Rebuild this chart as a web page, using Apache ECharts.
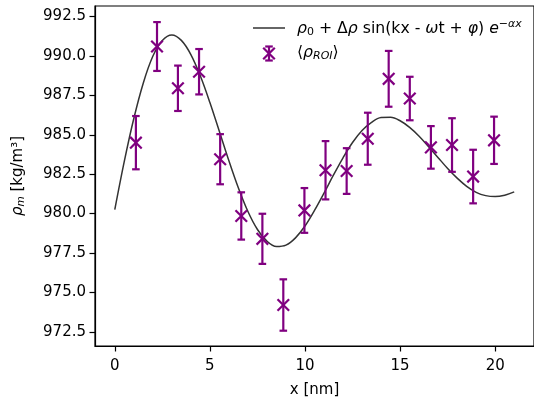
<!DOCTYPE html>
<html>
<head>
<meta charset="utf-8">
<script src="https://cdn.jsdelivr.net/npm/echarts@6/dist/echarts.min.js"></script>
<style>
  html, body { margin: 0; padding: 0; background: #ffffff; }
  #chart { width: 534px; height: 403px; }
</style>
</head>
<body>
<div id="chart"></div>
<script>
// Region-of-interest density samples with their uncertainties
const pointX = [1.11, 2.22, 3.32, 4.43, 5.54, 6.65, 7.76, 8.86, 9.97, 11.08, 12.19, 13.30, 14.40, 15.51, 16.62, 17.73, 18.84, 19.94];
const pointY = [984.5, 990.6, 987.95, 989.0, 983.45, 979.85, 978.4, 974.2, 980.2, 982.75, 982.7, 984.75, 988.55, 987.3, 984.2, 984.35, 982.35, 984.65];
const pointErr = [1.69, 1.55, 1.44, 1.44, 1.59, 1.5, 1.59, 1.63, 1.42, 1.85, 1.45, 1.65, 1.77, 1.38, 1.35, 1.7, 1.7, 1.5];

// Damped-wave fit curve
const fitX = [0, 0.5, 1, 1.5, 2, 2.5, 3, 3.5, 4, 4.5, 5, 5.5, 6, 6.5, 7, 7.5, 8, 8.5, 9, 9.5, 10,
              10.5, 11, 11.5, 12, 12.5, 13, 13.5, 14, 14.5, 15, 15.5, 16, 16.5, 17, 17.5, 18, 18.5, 19, 19.5, 20, 20.5, 21];
const fitY = [980.25, 983.31, 986.03, 988.29, 989.98, 990.98, 991.33, 990.99, 990.09, 988.73, 987.05, 985.21, 983.35, 981.62, 980.13, 978.99, 978.25, 977.91, 978.0, 978.46, 979.21,
              980.20, 981.30, 982.45, 983.54, 984.51, 985.27, 985.79, 986.09, 986.11, 985.89, 985.47, 984.91, 984.24, 983.55, 982.86, 982.25, 981.73, 981.35, 981.14, 981.08, 981.17, 981.38];

const xTicks = [0, 5, 10, 15, 20];
const yTicks = [972.5, 975.0, 977.5, 980.0, 982.5, 985.0, 987.5, 990.0, 992.5];

const PURPLE = '#800080';
const CURVE = '#333333';
const FONT = 'DejaVu Sans';

function mathRich(size) {
  const small = size * 0.7;
  return {
    it:  { fontFamily: FONT, fontStyle: 'italic', fontSize: size, color: '#000' },
    sub: { fontFamily: FONT, fontStyle: 'normal', fontSize: small, color: '#000', padding: [7, 0, 0, 0] },
    subi:{ fontFamily: FONT, fontStyle: 'italic', fontSize: small, color: '#000', padding: [7, 0, 0, 0] },
    sup: { fontFamily: FONT, fontStyle: 'italic', fontSize: small, color: '#000', padding: [0, 0, 8, 0] }
  };
}

const chart = echarts.init(document.getElementById('chart'), null, { renderer: 'canvas' });

const errData = pointX.map((x, i) => [x, pointY[i], pointErr[i]]);

function drawErrorPoint(params, api) {
  const x = api.value(0), y = api.value(1), e = api.value(2);
  const c = api.coord([x, y]);
  const hi = api.coord([x, y + e]);
  const lo = api.coord([x, y - e]);
  const cap = 3.8, m = 5.8;
  const st = { stroke: PURPLE, lineWidth: 2.2, lineCap: 'butt' };
  return {
    type: 'group',
    children: [
      { type: 'line', shape: { x1: c[0], y1: hi[1], x2: c[0], y2: lo[1] }, style: st },
      { type: 'line', shape: { x1: c[0] - cap, y1: hi[1], x2: c[0] + cap, y2: hi[1] }, style: st },
      { type: 'line', shape: { x1: c[0] - cap, y1: lo[1], x2: c[0] + cap, y2: lo[1] }, style: st },
      { type: 'line', shape: { x1: c[0] - m, y1: c[1] - m, x2: c[0] + m, y2: c[1] + m }, style: st },
      { type: 'line', shape: { x1: c[0] - m, y1: c[1] + m, x2: c[0] + m, y2: c[1] - m }, style: st }
    ]
  };
}

const legendStyle = { stroke: PURPLE, lineWidth: 2.2 };

const option = {
  backgroundColor: '#ffffff',
  animation: false,
  textStyle: { fontFamily: FONT },
  grid: {
    left: 95, top: 6, right: -4, bottom: 57,
    show: true, borderColor: '#000', borderWidth: 1.2, backgroundColor: 'transparent'
  },
  xAxis: {
    type: 'value',
    min: -1.04, max: 22.04,
    name: 'x [nm]',
    nameLocation: 'middle',
    nameGap: 37,
    nameTextStyle: { fontFamily: FONT, fontSize: 15, color: '#000' },
    axisLine: { show: true, onZero: false, lineStyle: { color: '#000', width: 1.2 } },
    axisTick: { show: true, length: 5.5, inside: false, customValues: xTicks, lineStyle: { color: '#000', width: 1.2 } },
    axisLabel: { customValues: xTicks, margin: 13, fontFamily: FONT, fontSize: 15, color: '#000' },
    splitLine: { show: false }
  },
  yAxis: {
    type: 'value',
    min: 971.6, max: 993.17,
    name: '{it|ρ}{subi|m} [kg/m³]',
    nameLocation: 'middle',
    nameRotate: 90,
    nameGap: 68,
    nameTextStyle: { fontFamily: FONT, fontSize: 15, color: '#000', rich: mathRich(15) },
    axisLine: { show: true, onZero: false, lineStyle: { color: '#000', width: 1.2 } },
    axisTick: { show: true, length: 5.5, inside: false, customValues: yTicks, lineStyle: { color: '#000', width: 1.2 } },
    axisLabel: {
      customValues: yTicks, margin: 9, fontFamily: FONT, fontSize: 15, color: '#000',
      formatter: v => v.toFixed(1)
    },
    splitLine: { show: false }
  },
  series: [
    {
      name: 'fit',
      type: 'line',
      data: fitX.map((x, i) => [x, fitY[i]]),
      smooth: 0.35,
      showSymbol: false,
      lineStyle: { color: CURVE, width: 1.5 },
      z: 2
    },
    {
      name: 'roi',
      type: 'custom',
      data: errData,
      encode: { x: 0, y: 1 },
      renderItem: drawErrorPoint,
      z: 3
    }
  ],
  graphic: [
    { type: 'line', shape: { x1: 253, y1: 28, x2: 285, y2: 28 }, style: { stroke: CURVE, lineWidth: 1.5 } },
    {
      type: 'text', left: 297, top: 19,
      style: {
        text: '{it|ρ}{sub|0} + Δ{it|ρ} sin(kx - {it|ω}t + {it|φ}) {it|e}{sup|−αx}',
        fontFamily: FONT, fontSize: 15.7, fill: '#000', rich: mathRich(15.7)
      }
    },
    { type: 'line', shape: { x1: 269, y1: 46.5, x2: 269, y2: 60.5 }, style: legendStyle },
    { type: 'line', shape: { x1: 265.2, y1: 46.5, x2: 272.8, y2: 46.5 }, style: legendStyle },
    { type: 'line', shape: { x1: 265.2, y1: 60.5, x2: 272.8, y2: 60.5 }, style: legendStyle },
    { type: 'line', shape: { x1: 263.2, y1: 47.7, x2: 274.8, y2: 59.3 }, style: legendStyle },
    { type: 'line', shape: { x1: 263.2, y1: 59.3, x2: 274.8, y2: 47.7 }, style: legendStyle },
    {
      type: 'text', left: 297, top: 45,
      style: {
        text: '⟨{it|ρ}{subi|ROI}⟩',
        fontFamily: FONT, fontSize: 15.7, fill: '#000', rich: mathRich(15.7)
      }
    }
  ]
};

chart.setOption(option);
</script>
</body>
</html>
